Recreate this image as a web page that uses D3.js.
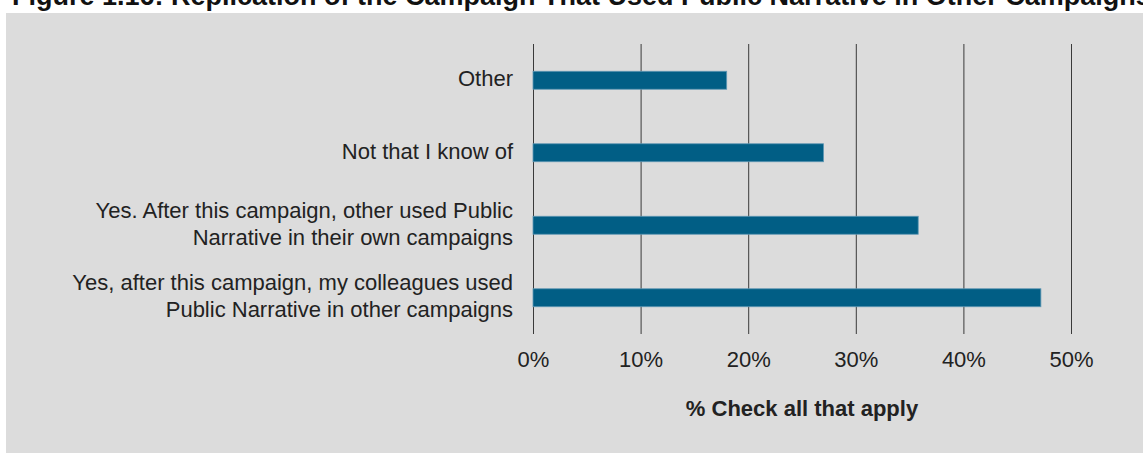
<!DOCTYPE html>
<html>
<head>
<meta charset="utf-8">
<script src="https://cdn.jsdelivr.net/npm/d3@7"></script>
<style>
  html, body { margin: 0; padding: 0; background: #fff; }
  svg { display: block; font-family: "Liberation Sans", Arial, sans-serif; }
</style>
</head>
<body>
<div id="chart"></div>
<script>
const titleText = "Figure 1.16: Replication of the Campaign That Used Public Narrative in Other Campaigns";
const categories = [
  "Other",
  "Not that I know of",
  "Yes. After this campaign, other used Public\nNarrative in their own campaigns",
  "Yes, after this campaign, my colleagues used\nPublic Narrative in other campaigns"
];
const values = [18.0, 27.0, 35.8, 47.2];
const tickValues = [0, 10, 20, 30, 40, 50];
const xTitle = "% Check all that apply";

const width = 1143, height = 453;
const margin = {top: 44, right: 72, bottom: 119, left: 533};

const svg = d3.select("#chart").append("svg")
  .attr("width", width)
  .attr("height", height);

// fond gris
svg.append("rect")
  .attr("x", 6).attr("y", 13)
  .attr("width", width - 6).attr("height", height - 13)
  .attr("fill", "#dcdcdc");

// titre (coupé en haut comme dans l'original)
svg.append("text")
  .attr("x", 12).attr("y", 5)
  .attr("font-size", 27)
  .attr("font-weight", "bold")
  .attr("fill", "#111")
  .text(titleText);

const x = d3.scaleLinear().domain([0, 50]).range([margin.left, width - margin.right]);
const y = d3.scaleBand().domain(categories)
  .range([margin.top, height - margin.bottom])
  .paddingInner(0.752).paddingOuter(0.376);

const plotBottom = height - margin.bottom;

// grille + étiquettes
const xAxis = svg.append("g")
  .attr("transform", `translate(0,${plotBottom})`)
  .call(d3.axisBottom(x).tickValues(tickValues)
    .tickSize(-(plotBottom - margin.top))
    .tickPadding(17)
    .tickFormat(d => d + "%"));
xAxis.select(".domain").remove();
xAxis.selectAll(".tick line").attr("stroke", "#3a3a3a").attr("stroke-width", 1);
xAxis.selectAll(".tick text")
  .attr("font-size", 22)
  .attr("font-family", "Liberation Sans, Arial, sans-serif")
  .attr("fill", "#222");

// barres
svg.append("g").selectAll("rect.bar")
  .data(categories)
  .join("rect")
  .attr("class", "bar")
  .attr("x", x(0))
  .attr("y", d => y(d))
  .attr("width", (d, i) => x(values[i]) - x(0))
  .attr("height", y.bandwidth())
  .attr("fill", "#015e85")
  .attr("stroke", "#5f97b3")
  .attr("stroke-width", 0.8);

// libellés des catégories
const labels = svg.append("g").selectAll("text.cat")
  .data(categories)
  .join("text")
  .attr("class", "cat")
  .attr("text-anchor", "end")
  .attr("font-size", 22)
  .attr("fill", "#222");

labels.each(function(d) {
  const lines = d.split("\n");
  const cy = y(d) + y.bandwidth() / 2 + 6;
  const lh = 27;
  const t = d3.select(this);
  lines.forEach((line, k) => {
    t.append("tspan")
      .attr("x", 513)
      .attr("y", cy + (k - (lines.length - 1) / 2) * lh)
      .text(line);
  });
});

// titre de l'axe
svg.append("text")
  .attr("x", (x(0) + x(50)) / 2)
  .attr("y", 416)
  .attr("text-anchor", "middle")
  .attr("font-size", 22)
  .attr("font-weight", "bold")
  .attr("fill", "#222")
  .text(xTitle);
</script>
</body>
</html>
